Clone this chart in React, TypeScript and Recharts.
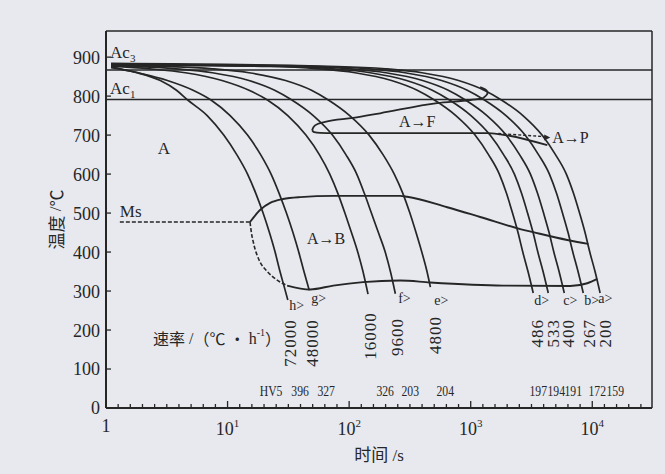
import React from 'react';
import { ComposedChart, Line, XAxis, YAxis, ReferenceLine, ReferenceDot } from 'recharts';

const INK = '#262626';
const BG = '#e7e9ef';
const SERIF = '"Liberation Serif", "DejaVu Serif", serif';
const CJK = '"Noto Sans CJK SC", "Noto Sans", sans-serif';

// ---- cooling curves: [time s, temperature °C] ----
const curveH: number[][] = [[1.1,873],[1.8,860],[2.8,840],[3.8,815],[4.7,790],[6.8,750],[9.3,700],[11.9,650],[14.6,600],[17.1,550],[19.6,500],[22.1,450],[24.6,400],[27,350],[29.3,310],[31.3,277]];
const curveG: number[][] = [[1.1,875],[1.7,862],[3.2,840],[5.2,815],[7.3,790],[10.5,750],[14.6,700],[18.7,650],[22.8,600],[26.6,550],[30.5,500],[34.5,450],[38.5,400],[42.5,350],[47,302]];
const curve16000: number[][] = [[1.1,877],[2.3,870],[4.5,860],[9,840],[15,815],[21.3,790],[31.3,750],[44.1,700],[56.9,650],[69.3,600],[80.9,550],[92.3,500],[104.5,450],[117.7,400],[130,350],[143,292]];
const curveF: number[][] = [[1.1,878],[3.8,870],[7.5,860],[15,840],[24.4,815],[33.8,790],[50.7,750],[72.9,700],[94,650],[115.5,600],[133.6,550],[152.5,500],[174,450],[198,400],[218.6,350],[240,293]];
const curveE: number[][] = [[1.1,879],[3,876],[7.5,870],[15,860],[30,840],[49,815],[67.5,790],[101,750],[146,700],[190,650],[235,600],[277,550],[316,500],[355,450],[396,400],[437,350],[466,310]];
const curveD: number[][] = [[1.1,880],[22,876],[56,870],[112,860],[223,840],[363,815],[503,790],[755,750],[1086,700],[1401,650],[1720,600],[1973,550],[2208,500],[2450,450],[2682,400],[2961,350],[3268,295]];
const curve533: number[][] = [[1.1,881],[30,876],[74,870],[149,860],[297,840],[483,815],[669,790],[1005,750],[1444,700],[1863,650],[2288,600],[2624,550],[2936,500],[3259,450],[3566,400],[3938,350],[4345,295]];
const curveC: number[][] = [[1.1,882],[40,876],[101,870],[201,860],[402,840],[654,815],[905,790],[1360,750],[1956,700],[2522,650],[3099,600],[3552,550],[3976,500],[4413,450],[4829,400],[5332,350],[5886,295]];
const curveB: number[][] = [[1.1,883],[58,876],[144,870],[288,860],[576,840],[937,815],[1297,790],[1950,750],[2800,700],[3610,650],[4440,600],[5090,550],[5690,500],[6320,450],[6917,400],[7637,350],[8433,295]];
const curveA: number[][] = [[1.1,884],[80,876],[199,870],[398,860],[795,840],[1292,815],[1789,790],[2690,750],[3860,700],[4980,650],[6120,600],[7020,550],[7860,500],[8720,450],[9540,400],[10540,350],[11600,295]];

// ---- transformation lines ----
const ferriteLower: number[][] = [[49.6,712],[51.5,707.5],[57.7,705.5],[73.8,705],[180,705],[561,705],[1367,705],[1750,702],[4266,674]];
const ferriteUpper: number[][] = [[49.6,712],[51,721],[55.6,729],[63.5,734],[108,744],[180,756],[530,782],[991,790],[1268,795]];
const ferriteHook: number[][] = [[1268,795],[1367,805],[1342,815],[1197,823]];
const pearliteArrow: number[][] = [[1684,704],[4103,696]];
const msFlat: number[][] = [[1.3,477],[15.3,477]];
const msDrop: number[][] = [[15.3,477],[15.6,456],[16.5,418],[18.2,379],[21.1,351],[25.6,328],[30.9,314]];
const bainiteStart: number[][] = [[15.3,477],[18.5,508],[22.4,526],[28.6,536],[39.5,541],[74,544],[263,544],[300,542],[641,515],[1197,490],[2555,459],[3268,451],[6225,431],[9270,421]];
const bainiteFinish: number[][] = [[30.9,314],[47.8,304],[74,314],[130,323],[263,327],[464,322],[1850,314],[6590,313],[9100,320],[10990,331]];

// ---- reference temperatures ----
const ac3 = 867;
const ac1 = 791;

// ---- text labels ----
const curveLetters = ['h>', 'g>', 'f>', 'e>', 'd>', 'c>', 'b>', 'a>'];
const letterTime = [32.1, 48.7, 253, 501, 3333, 5770, 8590, 11200];
const letterTemp = [264, 280, 280, 277, 277, 277, 277, 280];

const rateLabels = ['72000', '48000', '16000', '9600', '4800', '486', '533', '400', '267', '200'];
const rateTime = [32.7, 49.6, 149, 248, 510, 3525, 4777, 6340, 9445, 12790];
const rateTemp = [167, 167, 185, 182, 187, 192, 192, 192, 192, 192];

const hvLabels = ['HV5', '396', '327', '326', '203', '204', '197', '194', '191', '172', '159'];
const hvTime = [22.8, 39.5, 64.7, 198, 318, 617, 3594, 5057, 6980, 10990, 15460];
const hvTemp = 43;

const yTicks = [0, 100, 200, 300, 400, 500, 600, 700, 800, 900];
const xTicks = Array.from({ length: 45 }, (_, k) => Math.pow(10, k / 10));

const toPts = (arr: number[][]) => arr.map(([t, T]) => ({ t, T }));

const coolingCurves = [curveH, curveG, curve16000, curveF, curveE, curveD, curve533, curveC, curveB, curveA];

function XTick(props: any) {
  const { x, y, payload } = props;
  const v = payload.value as number;
  const lg = Math.log10(v);
  const n = Math.round(lg);
  const major = Math.abs(lg - n) < 1e-6;
  return (
    <g>
      <line x1={x} x2={x} y1={y} y2={y - (major ? 7 : 4)} stroke={INK} strokeWidth={1.3} />
      {major && n === 0 && (
        <text x={x} y={y + 24} textAnchor="middle" fontFamily={SERIF} fontSize={18} fill={INK}>1</text>
      )}
      {major && n > 0 && (
        <text x={x} y={y + 27} textAnchor="middle" fontFamily={SERIF} fontSize={18} fill={INK}>
          10<tspan dy={-8} fontSize={11}>{n}</tspan>
        </text>
      )}
    </g>
  );
}

function YTick(props: any) {
  const { x, y, payload } = props;
  return (
    <g>
      <line x1={x} x2={x + 5} y1={y} y2={y} stroke={INK} strokeWidth={1.3} />
      <text x={x - 6} y={y} dy="0.36em" textAnchor="end" fontFamily={SERIF} fontSize={18} fill={INK}>
        {payload.value}
      </text>
    </g>
  );
}

const lineProps = {
  dataKey: 'T',
  stroke: INK,
  dot: false,
  activeDot: false,
  isAnimationActive: false,
} as const;

export default function App() {
  return (
    <div style={{ position: 'absolute', left: 0, top: 0, width: 665, height: 474, background: BG }}>
      <ComposedChart width={665} height={474} margin={{ top: 31, right: 13, bottom: 0, left: 0 }}>
        <XAxis
          dataKey="t"
          type="number"
          scale="log"
          domain={[1, 31000]}
          allowDataOverflow
          ticks={xTicks}
          interval={0}
          tick={XTick}
          tickLine={false}
          tickSize={0}
          tickMargin={0}
          height={66}
          axisLine={{ stroke: INK, strokeWidth: 2 }}
          label={{
            content: (p: any) => {
              const vb = p.viewBox;
              return (
                <text x={vb.x + vb.width / 2} y={vb.y + 53} textAnchor="middle" fontSize={17} fill={INK}>
                  <tspan fontFamily={CJK}>时间</tspan>
                  <tspan fontFamily={SERIF}> /s</tspan>
                </text>
              );
            },
          }}
        />
        <YAxis
          type="number"
          domain={[0, 967]}
          allowDataOverflow
          ticks={yTicks}
          interval={0}
          tick={YTick}
          tickLine={false}
          tickSize={0}
          tickMargin={0}
          width={106}
          axisLine={{ stroke: INK, strokeWidth: 2 }}
          label={{
            content: (p: any) => {
              const vb = p.viewBox;
              const cx = vb.x + 55;
              const cy = vb.y + vb.height / 2;
              return (
                <text
                  x={cx}
                  y={cy}
                  transform={`rotate(-90 ${cx} ${cy})`}
                  textAnchor="middle"
                  dominantBaseline="central"
                  fontSize={17}
                  fill={INK}
                >
                  <tspan fontFamily={CJK}>温度</tspan>
                  <tspan fontFamily={SERIF}> /</tspan>
                  <tspan fontFamily={CJK}>℃</tspan>
                </text>
              );
            },
          }}
        />

        <ReferenceLine y={967} stroke={INK} strokeWidth={1.5} />
        <ReferenceLine x={31000} stroke={INK} strokeWidth={1.5} />
        <ReferenceLine y={ac3} stroke={INK} strokeWidth={1.5} />
        <ReferenceLine y={ac1} stroke={INK} strokeWidth={1.5} />

        {coolingCurves.map((c, i) => (
          <Line key={'cool' + i} data={toPts(c)} type="monotone" strokeWidth={1.7} {...lineProps} />
        ))}

        <Line data={toPts(ferriteLower)} type="monotone" strokeWidth={1.8} {...lineProps} />
        <Line data={toPts(ferriteUpper)} type="monotone" strokeWidth={1.8} {...lineProps} />
        <Line data={toPts(ferriteHook)} type="natural" strokeWidth={1.8} {...lineProps} />
        <Line data={toPts(pearliteArrow)} type="linear" strokeWidth={1.4} strokeDasharray="3 2" {...lineProps} />
        <Line data={toPts(msFlat)} type="linear" strokeWidth={1.6} strokeDasharray="4 2" {...lineProps} />
        <Line data={toPts(msDrop)} type="monotone" strokeWidth={1.6} strokeDasharray="4 2" {...lineProps} />
        <Line data={toPts(bainiteStart)} type="monotone" strokeWidth={1.9} {...lineProps} />
        <Line data={toPts(bainiteFinish)} type="monotone" strokeWidth={1.9} {...lineProps} />

        <ReferenceDot
          x={4510}
          y={694}
          r={0}
          ifOverflow="visible"
          shape={(p: any) => (
            <polygon points={`${p.cx},${p.cy} ${p.cx - 6},${p.cy - 3} ${p.cx - 6},${p.cy + 3}`} fill={INK} />
          )}
        />

        <ReferenceDot x={1.08} y={898} r={0} ifOverflow="visible" shape={(p: any) => (
          <text x={p.cx} y={p.cy} fontFamily={SERIF} fontSize={17} fill={INK}>Ac<tspan dy={4} fontSize={11}>3</tspan></text>
        )} />
        <ReferenceDot x={1.08} y={806} r={0} ifOverflow="visible" shape={(p: any) => (
          <text x={p.cx} y={p.cy} fontFamily={SERIF} fontSize={17} fill={INK}>Ac<tspan dy={4} fontSize={11}>1</tspan></text>
        )} />
        <ReferenceDot x={1.3} y={490} r={0} ifOverflow="visible" shape={(p: any) => (
          <text x={p.cx} y={p.cy} fontFamily={SERIF} fontSize={17} fill={INK}>Ms</text>
        )} />
        <ReferenceDot x={3.0} y={665} r={0} ifOverflow="visible" shape={(p: any) => (
          <text x={p.cx} y={p.cy} textAnchor="middle" dominantBaseline="central" fontFamily={SERIF} fontSize={17} fill={INK}>A</text>
        )} />
        <ReferenceDot x={363} y={736} r={0} ifOverflow="visible" shape={(p: any) => (
          <text x={p.cx} y={p.cy} textAnchor="middle" dominantBaseline="central" fontFamily={SERIF} fontSize={16} fill={INK}>A→F</text>
        )} />
        <ReferenceDot x={4688} y={695} r={0} ifOverflow="visible" shape={(p: any) => (
          <text x={p.cx} y={p.cy} textAnchor="start" dominantBaseline="central" fontFamily={SERIF} fontSize={16} fill={INK}>A→P</text>
        )} />
        <ReferenceDot x={64.7} y={436} r={0} ifOverflow="visible" shape={(p: any) => (
          <text x={p.cx} y={p.cy} textAnchor="middle" dominantBaseline="central" fontFamily={SERIF} fontSize={16} fill={INK}>A→B</text>
        )} />
        <ReferenceDot x={2.44} y={180} r={0} ifOverflow="visible" shape={(p: any) => (
          <text x={p.cx} y={p.cy} dominantBaseline="central" fontSize={16} fill={INK}>
            <tspan fontFamily={CJK}>速率</tspan>
            <tspan fontFamily={SERIF}> /</tspan>
            <tspan fontFamily={CJK}>（℃ · </tspan>
            <tspan fontFamily={SERIF}>h</tspan>
            <tspan fontFamily={SERIF} fontSize={10} dy={-6}>-1</tspan>
            <tspan fontFamily={CJK} dy={6}>）</tspan>
          </text>
        )} />

        {curveLetters.map((s, i) => (
          <ReferenceDot key={'let' + i} x={letterTime[i]} y={letterTemp[i]} r={0} ifOverflow="visible" shape={(p: any) => (
            <text x={p.cx} y={p.cy} dominantBaseline="central" fontFamily={SERIF} fontSize={14} fill={INK}>{s}</text>
          )} />
        ))}

        {rateLabels.map((s, i) => (
          <ReferenceDot key={'rate' + i} x={rateTime[i]} y={rateTemp[i]} r={0} ifOverflow="visible" shape={(p: any) => (
            <text
              x={p.cx}
              y={p.cy}
              transform={`rotate(-90 ${p.cx} ${p.cy})`}
              textAnchor="middle"
              dominantBaseline="central"
              fontFamily={SERIF}
              fontSize={17}
              letterSpacing={1}
              fill={INK}
            >
              {s}
            </text>
          )} />
        ))}

        {hvLabels.map((s, i) => (
          <ReferenceDot key={'hv' + i} x={hvTime[i]} y={hvTemp} r={0} ifOverflow="visible" shape={(p: any) => (
            <text
              x={0}
              y={0}
              transform={`translate(${p.cx} ${p.cy}) scale(0.78 1)`}
              textAnchor="middle"
              dominantBaseline="central"
              fontFamily={SERIF}
              fontSize={15}
              fill={INK}
            >
              {s}
            </text>
          )} />
        ))}
      </ComposedChart>
    </div>
  );
}
